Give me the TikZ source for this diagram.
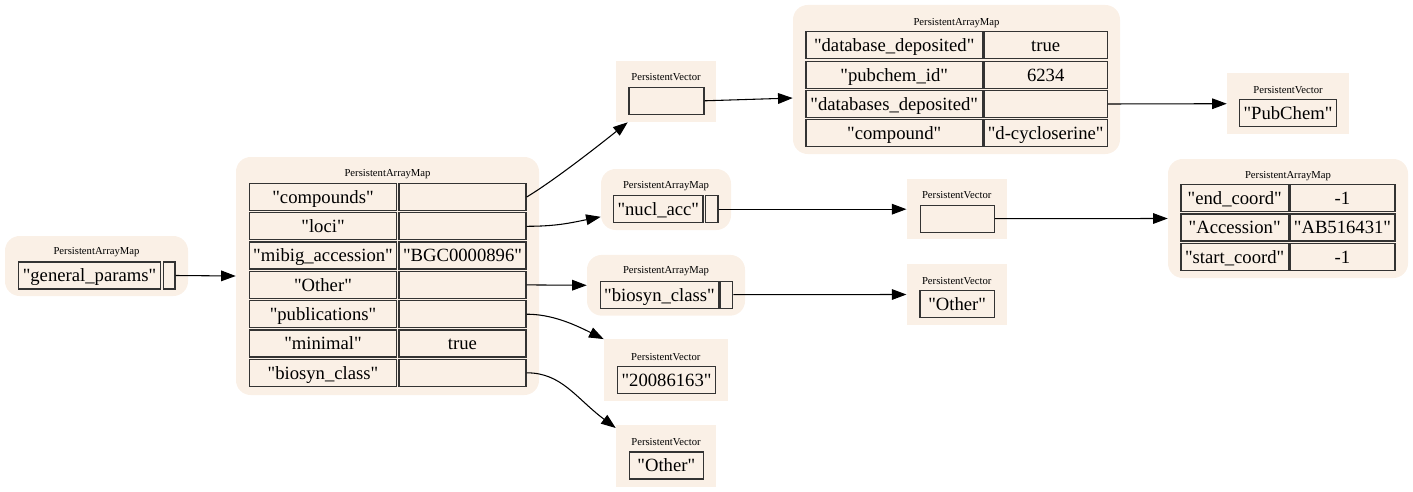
\documentclass[tikz,border=0pt]{standalone}
\usepackage{fontspec}
\setmainfont{Liberation Serif}[Ligatures=TeXOff]
\usetikzlibrary{arrows.meta}
\definecolor{linen}{RGB}{250,240,230}
\newcommand{\pxl}{0.75pt}
\tikzset{
  mapbg/.style={fill=linen, rounded corners=11pt, inner sep=0pt},
  vecbg/.style={fill=linen, inner sep=0pt},
  title/.style={font=\fontsize{8}{9}\selectfont, inner sep=0pt},
  cell/.style={draw=black!80, line width=1pt, fill=linen, inner sep=0pt, minimum height=27*\pxl, text height=11pt, text depth=1.5pt, font=\fontsize{14}{16}\selectfont},
  link/.style={->, line width=0.8pt}
}

\begin{document}
\begin{tikzpicture}[x=0.75pt, y=-0.75pt, >={Triangle[length=11pt,width=8pt]}]
    \useasboundingbox (0,0) rectangle (1413,492);
    % general params
    \node[mapbg, minimum width=183*\pxl, minimum height=60*\pxl] (gp_bg) at (96.5,266) {};
    \node[title] at (96.5,252) {PersistentArrayMap};
    \node[cell, minimum width=142.4*\pxl] (gp_key) at (89.5,275.5) {"general\_params"};
    \node[cell, minimum width=11.7*\pxl] (gp_val) at (169.2,275.5) {};
    % mibig record
    \node[mapbg, minimum width=303*\pxl, minimum height=238*\pxl] (mib_bg) at (387.5,276) {};
    \node[title] at (387.5,174) {PersistentArrayMap};
    \node[cell, minimum width=147.4*\pxl] (mib_compounds) at (323,197) {"compounds"};
    \node[cell, minimum width=127*\pxl] (mib_compounds_v) at (462.5,197) {};
    \node[cell, minimum width=147.4*\pxl] (mib_loci) at (323,226.3) {"loci"};
    \node[cell, minimum width=127*\pxl] (mib_loci_v) at (462.5,226.3) {};
    \node[cell, minimum width=147.4*\pxl] (mib_acc) at (323,255.6) {"mibig\_accession"};
    \node[cell, minimum width=127*\pxl] (mib_acc_v) at (462.5,255.6) {"BGC0000896"};
    \node[cell, minimum width=147.4*\pxl] (mib_other) at (323,284.9) {"Other"};
    \node[cell, minimum width=127*\pxl] (mib_other_v) at (462.5,284.9) {};
    \node[cell, minimum width=147.4*\pxl] (mib_pubs) at (323,314.2) {"publications"};
    \node[cell, minimum width=127*\pxl] (mib_pubs_v) at (462.5,314.2) {};
    \node[cell, minimum width=147.4*\pxl] (mib_minimal) at (323,343.5) {"minimal"};
    \node[cell, minimum width=127*\pxl] (mib_minimal_v) at (462.5,343.5) {true};
    \node[cell, minimum width=147.4*\pxl] (mib_class) at (323,372.8) {"biosyn\_class"};
    \node[cell, minimum width=127*\pxl] (mib_class_v) at (462.5,372.8) {};
    % compounds vector and map
    \node[vecbg, minimum width=100*\pxl, minimum height=61*\pxl] (cmp_vec_bg) at (666,91.5) {};
    \node[title] at (666,77) {PersistentVector};
    \node[cell, minimum width=75*\pxl] (cmp_vec) at (666.5,100.8) {};
    \node[mapbg, minimum width=327*\pxl, minimum height=149*\pxl] (cmp_bg) at (956.5,79.5) {};
    \node[title] at (956.5,23) {PersistentArrayMap};
    \node[cell, minimum width=176.3*\pxl] (cmp_dep) at (894.2,45.3) {"database\_deposited"};
    \node[cell, minimum width=123.3*\pxl] (cmp_dep_v) at (1045.7,45.3) {true};
    \node[cell, minimum width=176.3*\pxl] (cmp_pid) at (894.2,74.7) {"pubchem\_id"};
    \node[cell, minimum width=123.3*\pxl] (cmp_pid_v) at (1045.7,74.7) {6234};
    \node[cell, minimum width=176.3*\pxl] (cmp_dbs) at (894.2,104) {"databases\_deposited"};
    \node[cell, minimum width=123.3*\pxl] (cmp_dbs_v) at (1045.7,104) {};
    \node[cell, minimum width=176.3*\pxl] (cmp_name) at (894.2,133.3) {"compound"};
    \node[cell, minimum width=123.3*\pxl] (cmp_name_v) at (1045.7,133.3) {"d-cycloserine"};
    \node[vecbg, minimum width=122*\pxl, minimum height=61*\pxl] (db_vec_bg) at (1288,103.7) {};
    \node[title] at (1288,90) {PersistentVector};
    \node[cell, minimum width=97.4*\pxl] (db_vec) at (1288,113.3) {"PubChem"};
    % loci map, vector and entry
    \node[mapbg, minimum width=130*\pxl, minimum height=61*\pxl] (loc_bg) at (666,199.5) {};
    \node[title] at (666,185.7) {PersistentArrayMap};
    \node[cell, minimum width=89.3*\pxl] (loc_key) at (658.3,209.2) {"nucl\_acc"};
    \node[cell, minimum width=12.3*\pxl] (loc_val) at (711.8,209.2) {};
    \node[vecbg, minimum width=100*\pxl, minimum height=60.3*\pxl] (acc_vec_bg) at (956.7,209.2) {};
    \node[title] at (956.7,195) {PersistentVector};
    \node[cell, minimum width=73.6*\pxl] (acc_vec) at (957.5,218.7) {};
    \node[mapbg, minimum width=240*\pxl, minimum height=119*\pxl] (acc_bg) at (1288,218.5) {};
    \node[title] at (1288,176) {PersistentArrayMap};
    \node[cell, minimum width=107.3*\pxl] (acc_end) at (1234.7,198) {"end\_coord"};
    \node[cell, minimum width=105*\pxl] (acc_end_v) at (1342.5,198) {-1};
    \node[cell, minimum width=107.3*\pxl] (acc_id) at (1234.7,227.5) {"Accession"};
    \node[cell, minimum width=105*\pxl] (acc_id_v) at (1342.5,227.5) {"AB516431"};
    \node[cell, minimum width=107.3*\pxl] (acc_start) at (1234.7,257) {"start\_coord"};
    \node[cell, minimum width=105*\pxl] (acc_start_v) at (1342.5,257) {-1};
    % other map and vector
    \node[mapbg, minimum width=158*\pxl, minimum height=60.7*\pxl] (oth_bg) at (666,285.3) {};
    \node[title] at (666,270.7) {PersistentArrayMap};
    \node[cell, minimum width=117.6*\pxl] (oth_key) at (659.5,294.7) {"biosyn\_class"};
    \node[cell, minimum width=12.7*\pxl] (oth_val) at (726.3,294.7) {};
    \node[vecbg, minimum width=100*\pxl, minimum height=61*\pxl] (oth_vec_bg) at (956.7,294.5) {};
    \node[title] at (956.7,280.7) {PersistentVector};
    \node[cell, minimum width=74.3*\pxl] (oth_vec) at (957.2,303.8) {"Other"};
    % publications and class vectors
    \node[vecbg, minimum width=123.7*\pxl, minimum height=61.7*\pxl] (pub_vec_bg) at (665.8,370.2) {};
    \node[title] at (665.8,356.7) {PersistentVector};
    \node[cell, minimum width=98.4*\pxl] (pub_vec) at (666.5,379.7) {"20086163"};
    \node[vecbg, minimum width=100*\pxl, minimum height=61.7*\pxl] (cls_vec_bg) at (666,455.8) {};
    \node[title] at (666,441.7) {PersistentVector};
    \node[cell, minimum width=74*\pxl] (cls_vec) at (666.3,465.5) {"Other"};
    % links
    \draw[link] (gp_val.east) -- (mib_bg.west);
    \draw[link] (mib_compounds_v.east) .. controls +(25,-15) and +(-35,28) .. ([xshift=9pt]cmp_vec_bg.south west);
    \draw[link] (mib_loci_v.east) .. controls +(30,0) and +(-30,6) .. ([yshift=-13pt]loc_bg.west);
    \draw[link] (mib_other_v.east) -- (oth_bg.west);
    \draw[link] (mib_pubs_v.east) .. controls +(25,0) and +(-30,-15) .. (pub_vec_bg.north west);
    \draw[link] (mib_class_v.east) .. controls +(35,0) and +(-40,-30) .. ([yshift=-2.5pt]cls_vec_bg.north west);
    \draw[link] (cmp_vec.east) -- ([yshift=-13.9pt]cmp_bg.west);
    \draw[link] (cmp_dbs_v.east) -- (db_vec_bg.west);
    \draw[link] (loc_val.east) -- (acc_vec_bg.west);
    \draw[link] (acc_vec.east) -- (acc_bg.west);
    \draw[link] (oth_val.east) -- (oth_vec_bg.west);
\end{tikzpicture}
\end{document}
